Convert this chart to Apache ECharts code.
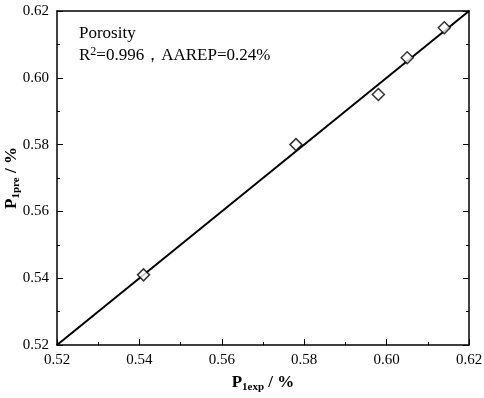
<!DOCTYPE html>
<html>
<head>
<meta charset="utf-8">
<script src="https://cdn.jsdelivr.net/npm/echarts@6/dist/echarts.min.js"></script>
<style>
  html, body { margin: 0; padding: 0; background: #fff; }
  #chart { width: 484px; height: 398px; }
</style>
</head>
<body>
<div id="chart"></div>
<script>
// measured vs predicted porosity
var expValues = [0.541, 0.578, 0.598, 0.605, 0.614];
var preValues = [0.541, 0.580, 0.595, 0.606, 0.615];
var fitLine = [[0.52, 0.52], [0.62, 0.62]];
var axisMin = 0.52, axisMax = 0.62, axisStep = 0.02;

var serif = '"Liberation Serif", "DejaVu Serif", serif';
var points = expValues.map(function (v, i) { return [v, preValues[i]]; });

var myChart = echarts.init(document.getElementById('chart'));

function mainAxis(pos, extra) {
    var ax = {
        type: 'value',
        position: pos,
        min: axisMin,
        max: axisMax,
        interval: axisStep,
        axisLine: { show: true, onZero: false, lineStyle: { color: '#000', width: 1.5 } },
        axisTick: { show: true, inside: true, length: 6, lineStyle: { color: '#000' } },
        minorTick: { show: true, splitNumber: 2, length: 3, lineStyle: { color: '#000' } },
        splitLine: { show: false },
        axisLabel: {
            show: true,
            color: '#000',
            fontFamily: serif,
            fontSize: 15,
            margin: 8,
            formatter: function (v) { return v.toFixed(2); }
        }
    };
    for (var k in extra) ax[k] = extra[k];
    return ax;
}

var nameRich = {
    a: { fontFamily: serif, fontSize: 17, color: '#000', fill: '#000', fontWeight: 'bold', lineHeight: 20 },
    b: { fontFamily: serif, fontSize: 11, color: '#000', fill: '#000', fontWeight: 'bold', lineHeight: 20, verticalAlign: 'bottom', padding: [6, 0, 0, 0] }
};

option = {
    animation: false,
    backgroundColor: '#fff',
    grid: { left: 57, right: 15, top: 11, bottom: 53, outerBoundsMode: 'none', containLabel: false },
    xAxis: [
        mainAxis('bottom', {
            name: '{a|P}{b|1exp}{a| / %}',
            nameLocation: 'middle',
            nameGap: 28,
            nameTextStyle: { rich: nameRich }
        }),
        mainAxis('top', { axisLabel: { show: false }, axisTick: { show: false }, minorTick: { show: false } })
    ],
    yAxis: [
        mainAxis('left', {}),
        mainAxis('right', { axisLabel: { show: false } })
    ],
    graphic: [
        {
            type: 'text',
            x: 12,
            y: 178,
            rotation: Math.PI / 2,
            style: {
                text: '{a|P}{b|1pre}{a| / %}',
                align: 'center',
                verticalAlign: 'middle',
                rich: nameRich
            }
        },
        {
            type: 'text',
            left: 79,
            top: 25,
            style: { text: 'Porosity', font: '17px ' + serif, fill: '#000' }
        },
        {
            type: 'text',
            left: 79,
            top: 46,
            style: {
                text: '{a|R}{s|2}{a|=0.996，AAREP=0.24%}',
                rich: {
                    a: { fontFamily: serif, fontSize: 17, fill: '#000' },
                    s: { fontFamily: serif, fontSize: 12, fill: '#000', verticalAlign: 'top', padding: [0, 0, 8, 0] }
                }
            }
        }
    ],
    series: [
        {
            type: 'line',
            data: fitLine,
            showSymbol: false,
            symbol: 'none',
            lineStyle: { color: '#000', width: 2 },
            z: 2
        },
        {
            type: 'scatter',
            data: points,
            symbol: 'diamond',
            symbolSize: 12,
            itemStyle: { color: '#fff', borderColor: '#000', borderWidth: 1.5 },
            z: 3
        }
    ]
};
myChart.setOption(option);
</script>
</body>
</html>
